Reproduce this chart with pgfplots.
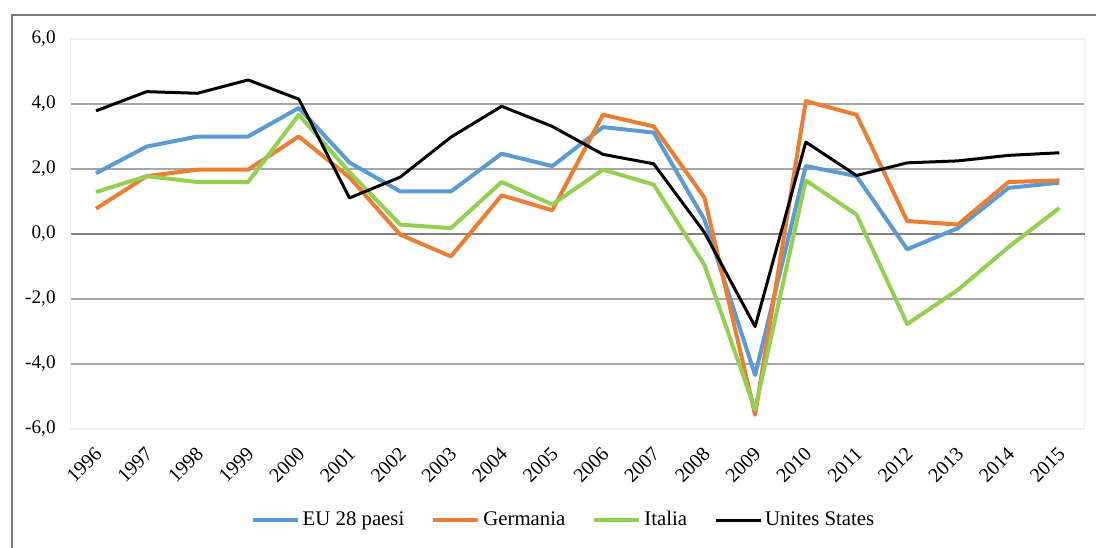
\documentclass[border=0pt]{standalone}
\usepackage{pgfplots}
\pgfplotsset{compat=1.18}
\usepackage{fontspec}
\setmainfont{Liberation Serif}

\definecolor{eublue}{HTML}{5B9BD5}
\definecolor{deorange}{HTML}{ED7D31}
\definecolor{itgreen}{HTML}{92D050}
\definecolor{gridgray}{HTML}{A6A6A6}
\definecolor{zerogray}{HTML}{808080}
\definecolor{framegray}{HTML}{EFEFEF}
\definecolor{outergray}{HTML}{7A7A7A}

\begin{document}
\begin{tikzpicture}
\begin{axis}[
    scale only axis,
    width=507pt, height=195pt,
    xmin=1995.5, xmax=2015.5,
    ymin=-6, ymax=6,
    xtick={1996,...,2015},
    ytick={-6,-4,...,6},
    minor ytick={-4,-2,2,4},
    yminorgrids=true,
    minor grid style={gridgray, line width=0.8pt},
    extra y ticks={0},
    extra y tick labels={},
    extra y tick style={ymajorgrids=true, major grid style={zerogray, line width=0.9pt}},
    major tick length=0pt, minor tick length=0pt,
    axis line style={framegray, line width=0.8pt},
    /pgf/number format/assume math mode=true,
    yticklabel style={font=\fontsize{9.6}{11}\selectfont, xshift=-4pt,
        /pgf/number format/.cd, fixed, fixed zerofill, precision=1, use comma},
    xticklabel style={font=\fontsize{10}{11}\selectfont, xshift=2pt, yshift=-10pt,
        rotate=45, anchor=east, inner sep=1pt, /pgf/number format/1000 sep={}},
    clip=false,
    legend columns=4,
    legend style={at={(rel axis cs:0.4865,-0.2333)}, anchor=center, draw=none,
        fill=none, font=\fontsize{10.4}{12}\selectfont,
        nodes={inner sep=1.5pt},
        /tikz/every even column/.append style={column sep=12pt}},
    legend image code/.code={\draw[#1] (0pt,0pt) -- (22.5pt,0pt);},
    every axis plot/.append style={line join=round},
]
% EU 28 paesi
\addplot[eublue, line width=2pt] coordinates {
(1996,1.87) (1997,2.69) (1998,3.0) (1999,3.0) (2000,3.88) (2001,2.2)
(2002,1.31) (2003,1.31) (2004,2.47) (2005,2.09) (2006,3.29) (2007,3.12)
(2008,0.45) (2009,-4.34) (2010,2.09) (2011,1.78) (2012,-0.47) (2013,0.18)
(2014,1.42) (2015,1.58)};
% Germania
\addplot[deorange, line width=2pt] coordinates {
(1996,0.78) (1997,1.78) (1998,1.98) (1999,1.98) (2000,3.0) (2001,1.74)
(2002,-0.02) (2003,-0.69) (2004,1.19) (2005,0.73) (2006,3.67) (2007,3.31)
(2008,1.12) (2009,-5.56) (2010,4.09) (2011,3.67) (2012,0.4) (2013,0.29)
(2014,1.6) (2015,1.65)};
% Italia
\addplot[itgreen, line width=2pt] coordinates {
(1996,1.29) (1997,1.78) (1998,1.6) (1999,1.6) (2000,3.67) (2001,1.9)
(2002,0.29) (2003,0.18) (2004,1.6) (2005,0.91) (2006,1.98) (2007,1.52)
(2008,-0.95) (2009,-5.4) (2010,1.65) (2011,0.6) (2012,-2.77) (2013,-1.72)
(2014,-0.4) (2015,0.8)};
% Unites States
\addplot[black, line width=1.5pt] coordinates {
(1996,3.79) (1997,4.38) (1998,4.33) (1999,4.74) (2000,4.15) (2001,1.11)
(2002,1.75) (2003,2.98) (2004,3.93) (2005,3.31) (2006,2.45) (2007,2.16)
(2008,0.05) (2009,-2.85) (2010,2.83) (2011,1.8) (2012,2.19) (2013,2.25)
(2014,2.42) (2015,2.5)};
\legend{EU 28 paesi, Germania, Italia, Unites States}

% outer chart frame (only left and top edges fall inside the picture)
\draw[outergray, line width=1pt]
    (rel axis cs:-0.0582,-0.40) -- (rel axis cs:-0.0582,1.0615) -- (rel axis cs:1.05,1.0615);
\coordinate (bl) at (rel axis cs:-0.0697,-0.3026);
\coordinate (tr) at (rel axis cs:1.0112,1.1);
\end{axis}
\pgfresetboundingbox
\useasboundingbox (bl) rectangle (tr);
\end{tikzpicture}
\end{document}
